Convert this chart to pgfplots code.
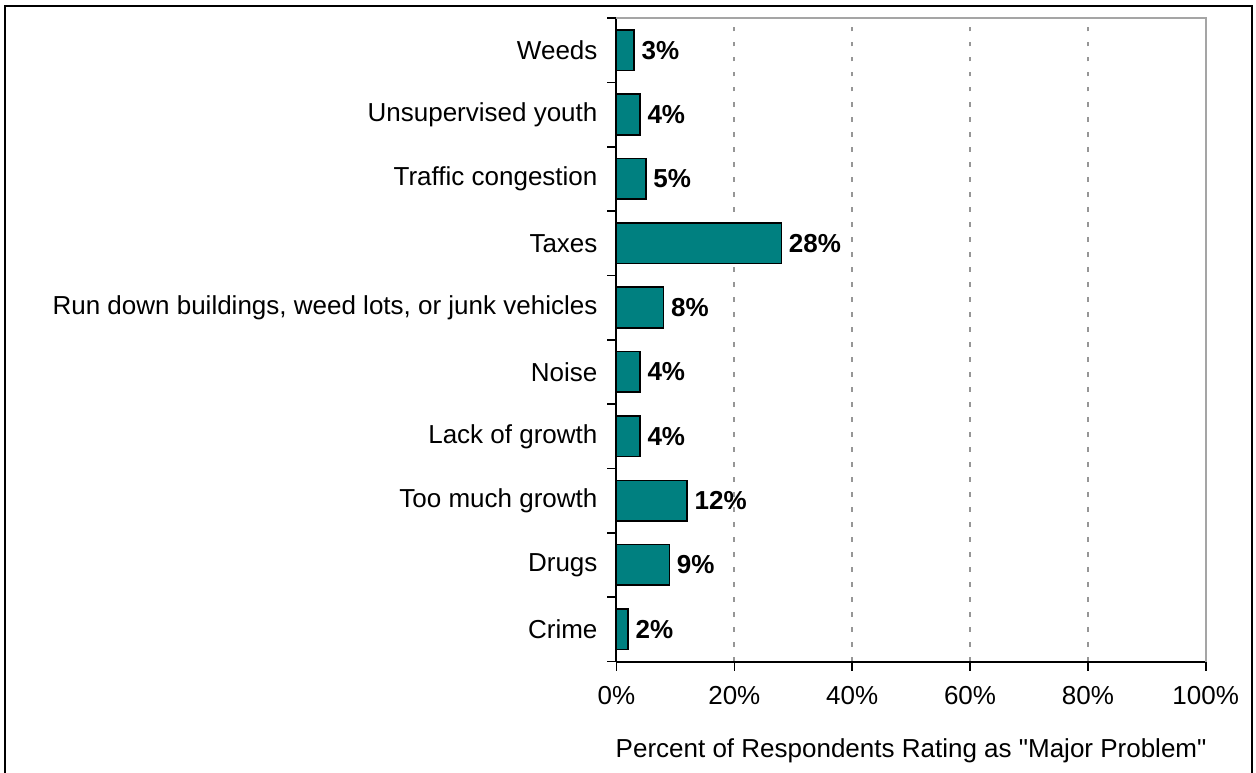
\documentclass[border=0pt]{standalone}
\usepackage{pgfplots}
\pgfplotsset{compat=1.18}
\usepackage{fontspec}
\setmainfont{Liberation Sans}
\definecolor{barteal}{RGB}{0,128,128}
\definecolor{gridgray}{RGB}{150,150,150}
\definecolor{bordergray}{RGB}{165,165,165}
\begin{document}
\begin{tikzpicture}
\begin{axis}[
  at={(0,0)}, anchor=south west,
  scale only axis,
  width=294.6pt, height=321.75pt,
  xbar,
  bar width=20.3pt,
  xmin=0, xmax=100,
  ymin=-0.5, ymax=9.5,
  axis x line*=bottom,
  axis y line*=left,
  axis line style={black, line width=1pt},
  tick align=outside,
  major tick length=4.5pt,
  tick style={black, line width=0.8pt},
  xtick={0,20,40,60,80,100},
  xticklabels={0\%,20\%,40\%,60\%,80\%,100\%},
  xticklabel style={font=\fontsize{13}{15}\selectfont, yshift=-4.5pt},
  ytick={-0.5,0.5,...,9.5},
  yticklabels={},
  extra y ticks={0,1,2,3,4,5,6,7,8,9},
  extra y tick labels={Crime,Drugs,Too much growth,Lack of growth,Noise,{Run down buildings, weed lots, or junk vehicles},Taxes,Traffic congestion,Unsupervised youth,Weeds},
  extra y tick style={tick style={draw=none}, yticklabel style={font=\fontsize{13}{15}\selectfont, xshift=-1.5pt}},
  xmajorgrids,
  major grid style={gridgray, line width=1pt, dash pattern=on 2.2pt off 5.3pt},
  xlabel={Percent of Respondents Rating as \textquotedbl Major Problem\textquotedbl},
  xlabel style={font=\fontsize{13}{15}\selectfont, yshift=-10pt},
  point meta=x,
  /pgf/number format/assume math mode=true,
  nodes near coords={\pgfmathprintnumber{\pgfplotspointmeta}\%},
  nodes near coords style={font=\fontsize{13}{15}\selectfont\bfseries, anchor=west},
  clip=false,
]
\draw[bordergray, line width=1pt] (rel axis cs:0,1) -- (rel axis cs:1,1) -- (rel axis cs:1,0);
\addplot[fill=barteal, draw=black, line width=0.8pt] coordinates {
  (2,0) (9,1) (12,2) (4,3) (4,4) (8,5) (28,6) (5,7) (4,8) (3,9)
};
\end{axis}
\draw[black, line width=1.1pt] (-305.75pt,-60pt) -- (-305.75pt,327.75pt) -- (317.75pt,327.75pt) -- (317.75pt,-60pt);
\pgfresetboundingbox
\path (-308.25pt,-55.25pt) rectangle (319.75pt,330.75pt);
\end{tikzpicture}
\end{document}
